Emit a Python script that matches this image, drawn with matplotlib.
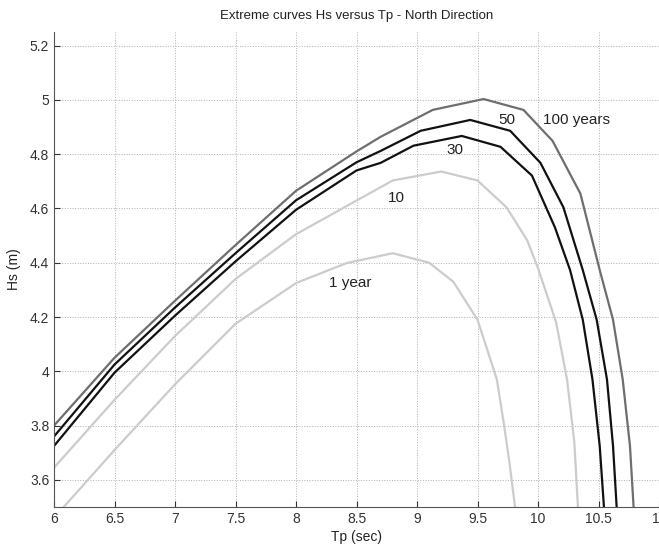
import matplotlib
matplotlib.use('Agg')
import matplotlib.pyplot as plt
from matplotlib.ticker import FuncFormatter

# return period curves
tp_100 = [6.0, 6.5, 7.0, 7.5, 8.0, 8.5, 8.7, 9.13, 9.55, 9.88, 10.12, 10.35, 10.51, 10.62, 10.70, 10.76, 10.79]
hs_100 = [3.80, 4.05, 4.26, 4.465, 4.665, 4.81, 4.864, 4.963, 5.003, 4.963, 4.849, 4.655, 4.373, 4.19, 3.97, 3.725, 3.5]

tp_50 = [6.0, 6.5, 7.0, 7.5, 8.0, 8.5, 8.7, 9.03, 9.44, 9.77, 10.02, 10.21, 10.37, 10.485, 10.57, 10.62, 10.65]
hs_50 = [3.76, 4.025, 4.235, 4.435, 4.63, 4.77, 4.812, 4.886, 4.926, 4.886, 4.768, 4.604, 4.373, 4.19, 3.97, 3.725, 3.5]

tp_30 = [6.0, 6.5, 7.0, 7.5, 8.0, 8.5, 8.7, 8.97, 9.37, 9.69, 9.95, 10.14, 10.265, 10.37, 10.45, 10.51, 10.545]
hs_30 = [3.725, 3.995, 4.205, 4.405, 4.595, 4.74, 4.768, 4.831, 4.867, 4.827, 4.721, 4.530, 4.373, 4.19, 3.97, 3.725, 3.5]

tp_10 = [6.0, 6.5, 7.0, 7.5, 8.0, 8.5, 8.8, 9.2, 9.5, 9.74, 9.91, 10.0, 10.15, 10.24, 10.30, 10.33]
hs_10 = [3.645, 3.895, 4.13, 4.34, 4.505, 4.629, 4.703, 4.736, 4.703, 4.604, 4.483, 4.38, 4.18, 3.97, 3.74, 3.5]

tp_1 = [6.08, 6.5, 7.0, 7.5, 8.0, 8.42, 8.8, 9.1, 9.3, 9.5, 9.66, 9.72, 9.765, 9.81]
hs_1 = [3.5, 3.71, 3.952, 4.175, 4.325, 4.399, 4.435, 4.40, 4.33, 4.19, 3.97, 3.80, 3.66, 3.5]

labels = ['100 years', '50', '30', '10', '1 year']
label_x = [10.04, 9.74, 9.31, 8.83, 8.45]
label_y = [4.926, 4.926, 4.816, 4.64, 4.325]

plt.rcParams['font.family'] = ['Liberation Sans', 'DejaVu Sans']

fig = plt.figure(figsize=(6.59, 5.46), dpi=100)
ax = fig.add_axes([0.082, 0.0714, 0.918, 0.870])

ax.plot(tp_1, hs_1, color='#cccccc', lw=1.6)
ax.plot(tp_10, hs_10, color='#cccccc', lw=1.6)
ax.plot(tp_30, hs_30, color='#111111', lw=1.6)
ax.plot(tp_50, hs_50, color='#111111', lw=1.6)
ax.plot(tp_100, hs_100, color='#6e6e6e', lw=1.6)

for t, x, y in zip(labels, label_x, label_y):
    ha = 'left' if t == '100 years' else 'center'
    ax.text(x, y, t, fontsize=11, ha=ha, va='center', color='#222222')

ax.set_xlim(6, 11)
ax.set_ylim(3.5, 5.25)
ax.set_xticks([6, 6.5, 7, 7.5, 8, 8.5, 9, 9.5, 10, 10.5, 11])
ax.set_yticks([3.6, 3.8, 4.0, 4.2, 4.4, 4.6, 4.8, 5.0, 5.2])
fmt = FuncFormatter(lambda v, p: '%g' % round(v, 2))
ax.xaxis.set_major_formatter(fmt)
ax.yaxis.set_major_formatter(fmt)
ax.tick_params(direction='in', length=4, labelsize=10, colors='#333333')

ax.grid(True, linestyle=':', color='#b0b0b0', linewidth=0.7)
ax.spines['top'].set_visible(False)
ax.spines['right'].set_visible(False)
for s in ['left', 'bottom']:
    ax.spines[s].set_color('#555555')

ax.set_title('Extreme curves Hs versus Tp - North Direction', fontsize=9.5, pad=9, color='#222222')
ax.set_xlabel('Tp (sec)', fontsize=10, labelpad=3, color='#222222')
ax.set_ylabel('Hs (m)', fontsize=10, labelpad=6, color='#222222')

plt.savefig('out.png', dpi=100)
